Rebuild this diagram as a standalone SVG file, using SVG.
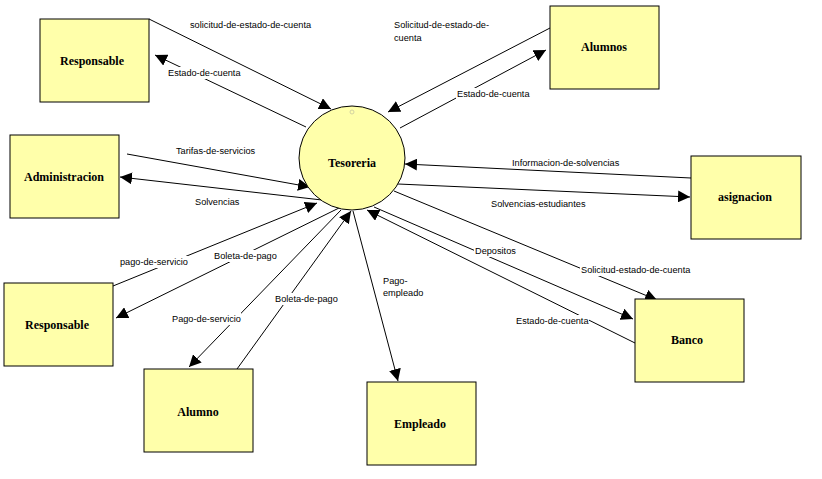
<svg xmlns="http://www.w3.org/2000/svg" width="822" height="479" viewBox="0 0 822 479">
<style>
.node{fill:#FFFFAA;stroke:#000;stroke-width:1}
.nl{font-family:"Liberation Serif",serif;font-weight:bold;font-size:12px;text-anchor:middle;fill:#000}
.el{font-family:"Liberation Sans",Arial,sans-serif;font-size:9.2px;fill:#000}
.c{stroke:#000;stroke-width:1;fill:none;marker-end:url(#ah)}
.bg{fill:#fff}
</style>
<defs>
<marker id="ah" markerUnits="userSpaceOnUse" markerWidth="12" markerHeight="12" refX="12" refY="6" orient="auto">
<path d="M0,0 L12,6 L0,12 z" fill="#000"/>
</marker>
</defs>
<rect width="822" height="479" fill="#fff"/>
<g id="connectors">
<path class="c" d="M149,19 L331,109"/>
<path class="c" d="M306,127 L155,55"/>
<path class="c" d="M550,28 L388,112"/>
<path class="c" d="M400,128 L546,50"/>
<path class="c" d="M127,154 L310,187"/>
<path class="c" d="M322,200 L120,177"/>
<path class="c" d="M113,286 L317,203"/>
<path class="c" d="M339,208 L116,318"/>
<path class="c" d="M341,210 L189,367"/>
<path class="c" d="M237,369 L351,211"/>
<path class="c" d="M353,211 L398,381"/>
<path class="c" d="M374,207 L633,319"/>
<path class="c" d="M635,343 L367,210"/>
<path class="c" d="M394,191 L657,300"/>
<path class="c" d="M691,178 L405,164"/>
<path class="c" d="M398,184 L690,197"/>
</g>
<g id="labels">
<text class="el" x="190" y="28.3">solicitud-de-estado-de-cuenta</text>
<rect class="bg" x="167" y="67" width="74" height="12"/>
<text class="el" x="168" y="76.3">Estado-de-cuenta</text>
<text class="el" x="394" y="28.3">Solicitud-de-estado-de-</text>
<text class="el" x="394" y="41.3">cuenta</text>
<rect class="bg" x="456" y="88" width="74" height="12"/>
<text class="el" x="457" y="97.3">Estado-de-cuenta</text>
<text class="el" x="176" y="154.3">Tarifas-de-servicios</text>
<text class="el" x="195" y="205.3">Solvencias</text>
<text class="el" x="512" y="166.3">Informacion-de-solvencias</text>
<text class="el" x="491" y="207.3">Solvencias-estudiantes</text>
<rect class="bg" x="119" y="256" width="70" height="12"/>
<text class="el" x="120" y="265.3">pago-de-servicio</text>
<rect class="bg" x="213" y="250" width="63" height="12"/>
<text class="el" x="214" y="259.3">Boleta-de-pago</text>
<rect class="bg" x="171" y="313" width="70" height="12"/>
<text class="el" x="172" y="322.3">Pago-de-servicio</text>
<rect class="bg" x="274" y="293" width="63" height="12"/>
<text class="el" x="275" y="302.3">Boleta-de-pago</text>
<text class="el" x="383" y="284.3">Pago-</text>
<text class="el" x="383" y="296.3">empleado</text>
<rect class="bg" x="474" y="245" width="43" height="12"/>
<text class="el" x="475" y="254.3">Depositos</text>
<rect class="bg" x="580" y="264" width="110" height="12"/>
<text class="el" x="581" y="273.3">Solicitud-estado-de-cuenta</text>
<rect class="bg" x="515" y="315" width="74" height="12"/>
<text class="el" x="516" y="324.3">Estado-de-cuenta</text>
</g>
<g id="tesoreria">
<ellipse class="node" cx="352" cy="158" rx="53" ry="52"/>
<circle cx="352" cy="112" r="2" fill="none" stroke="#c8c8a0" stroke-width="0.8"/>
<text class="nl" x="352" y="167">Tesoreria</text>
</g>
<g id="responsable1">
<rect class="node" x="40" y="19" width="109" height="83"/>
<text class="nl" x="92" y="65">Responsable</text>
</g>
<g id="alumnos">
<rect class="node" x="550" y="6" width="109" height="83"/>
<text class="nl" x="604" y="51">Alumnos</text>
</g>
<g id="administracion">
<rect class="node" x="10" y="135" width="109" height="83"/>
<text class="nl" x="64" y="181">Administracion</text>
</g>
<g id="asignacion">
<rect class="node" x="691" y="156" width="110" height="83"/>
<text class="nl" x="745" y="201">asignacion</text>
</g>
<g id="responsable2">
<rect class="node" x="4" y="283" width="109" height="83"/>
<text class="nl" x="57" y="329">Responsable</text>
</g>
<g id="alumno">
<rect class="node" x="144" y="369" width="109" height="83"/>
<text class="nl" x="198" y="416">Alumno</text>
</g>
<g id="empleado">
<rect class="node" x="367" y="382" width="109" height="83"/>
<text class="nl" x="420" y="428">Empleado</text>
</g>
<g id="banco">
<rect class="node" x="635" y="299" width="109" height="83"/>
<text class="nl" x="687" y="344">Banco</text>
</g>
</svg>
